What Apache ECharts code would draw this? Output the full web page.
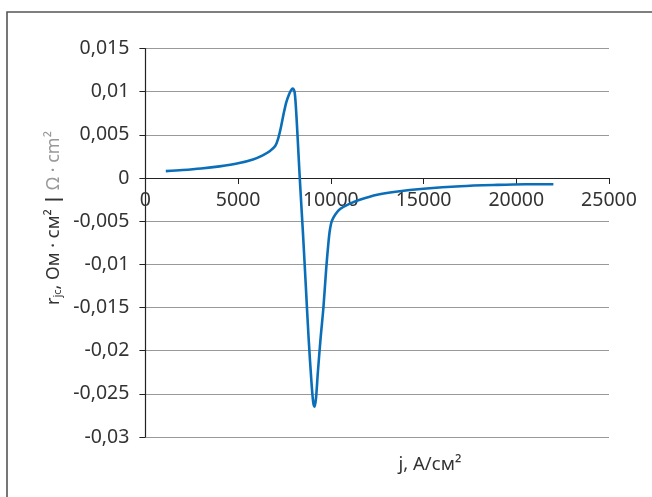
<!DOCTYPE html>
<html><head><meta charset="utf-8">
<script src="https://cdn.jsdelivr.net/npm/echarts@6/dist/echarts.min.js"></script>
<style>html,body{margin:0;padding:0;background:#fff}#c{width:652px;height:497px}</style>
</head><body><div id="c"></div>
<script>
var jValues = [1100,2000,3000,4000,5000,5800,6300,6700,7000,7150,7300,7450,7600,7750,7850,7950,8050,8150,8250,8350,8500,8650,8800,8950,9050,9120,9200,9300,9450,9600,9750,9870,9950,10050,10250,10500,11000,11600,12500,13500,15000,17000,19000,20500,22000];
var rValues = [0.00080,0.00092,0.00110,0.00135,0.00170,0.00215,0.00260,0.00310,0.00370,0.00450,0.00580,0.00740,0.00880,0.00970,0.01015,0.01035,0.00990,0.00700,0.00300,-0.00100,-0.00650,-0.01250,-0.01850,-0.02350,-0.02600,-0.02650,-0.02550,-0.02250,-0.01850,-0.01500,-0.01050,-0.00750,-0.00600,-0.00500,-0.00420,-0.00360,-0.00300,-0.00250,-0.00195,-0.00160,-0.00125,-0.00095,-0.00080,-0.00073,-0.00072];
var xTicks = {min:0, max:25000, interval:5000};
var yTicks = {min:-0.03, max:0.015, interval:0.005};

var data = jValues.map(function(j,i){return [j, rValues[i]];});
var chart = echarts.init(document.getElementById('c'));
var FONT = 'Noto Sans';
var gridTop = 48.5, gridBottom = 60, H = 497;
var plotH = H - gridTop - gridBottom;
var zeroOffset = plotH * (0 - yTicks.min) / (yTicks.max - yTicks.min);
chart.setOption({
  animation:false,
  textStyle:{fontFamily:FONT},
  grid:{left:145.4, right:43, top:gridTop, bottom:gridBottom},
  xAxis:{type:'value', min:xTicks.min, max:xTicks.max, interval:xTicks.interval,
    offset:-zeroOffset,
    axisLine:{onZero:false, lineStyle:{color:'#222', width:1.2}},
    axisTick:{show:true, length:6, lineStyle:{color:'#222'}},
    axisLabel:{fontSize:19.5, color:'#333', fontFamily:FONT, margin:12,
      formatter:function(v){return String(v);}},
    splitLine:{show:false}},
  yAxis:{type:'value', min:yTicks.min, max:yTicks.max, interval:yTicks.interval,
    axisLine:{show:true, lineStyle:{color:'#222', width:1.2}},
    axisTick:{show:true, length:6, lineStyle:{color:'#222'}},
    axisLabel:{fontSize:19.5, color:'#333', fontFamily:FONT, margin:16,
      formatter:function(v){return String(+v.toFixed(4)).replace('.',',');}},
    splitLine:{show:true, lineStyle:{color:'#999', width:1.2}}},
  series:[{type:'line', data:data, smooth:0.3, showSymbol:false,
    lineStyle:{color:'#0a6fb8', width:2.6}}],
  graphic:[
    {type:'rect', shape:{x:7, y:12, width:700, height:600}, style:{fill:'none', stroke:'#555', lineWidth:1.6}, silent:true},
    {type:'text', x:54, y:218, rotation:Math.PI/2,
      style:{text:'r{s|jc}, Ом · см² {b||} {g|Ω · cm²}', align:'center', verticalAlign:'middle',
        font:'18px "Noto Sans"', fill:'#333',
        rich:{s:{fontSize:11, fill:'#333', verticalAlign:'bottom', fontFamily:FONT, padding:[8,0,0,0]},
              b:{fontSize:18, fill:'#333', fontWeight:'bold', fontFamily:FONT},
              g:{fontSize:18, fill:'#999', fontFamily:FONT}}}},
    {type:'text', x:430, y:465, style:{text:'j, A/см²', align:'center', verticalAlign:'middle', font:'18.5px "Noto Sans"', fill:'#333'}}
  ]
});
</script></body></html>
